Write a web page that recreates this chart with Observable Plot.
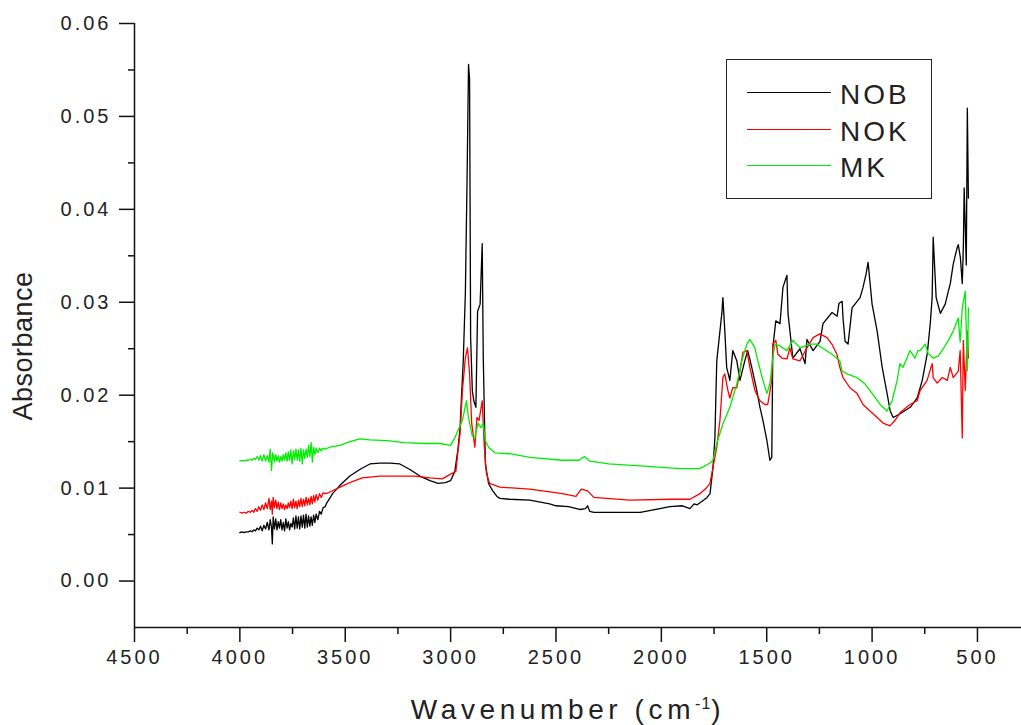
<!DOCTYPE html>
<html>
<head>
<meta charset="utf-8">
<script src="https://cdn.jsdelivr.net/npm/d3@7"></script>
<script src="https://cdn.jsdelivr.net/npm/@observablehq/plot@0.6"></script>
<style>
  html, body { margin: 0; padding: 0; background: #fff; }
  #wrap { position: relative; width: 1021px; height: 725px; font-family: "Liberation Sans", Arial, sans-serif; color: #222; }
  #chart svg text { letter-spacing: 3px; }
  #ytitle { position: absolute; left: 23px; top: 346px; transform: translate(-50%, -50%) rotate(-90deg); font-size: 27px; white-space: nowrap; letter-spacing: 0.5px; }
  #xtitle { position: absolute; left: 568px; top: 694px; transform: translateX(-50%); font-size: 28px; white-space: nowrap; letter-spacing: 4.6px; }
  #xtitle sup { font-size: 16px; letter-spacing: 1px; }
  #legend { position: absolute; left: 726px; top: 59px; width: 204px; height: 138px; border: 1.5px solid #222; }
  .lg-line { position: absolute; left: 20px; width: 84px; height: 0; border-top: 1.5px solid; }
  .lg-text { position: absolute; left: 113px; font-size: 28px; letter-spacing: 3px; line-height: 1; }
</style>
</head>
<body>
<div id="wrap">
  <div id="chart"></div>
  <div id="ytitle">Absorbance</div>
  <div id="xtitle">Wavenumber (cm<sup>-1</sup>)</div>
  <div id="legend"></div>
</div>
<script>
// ---- Data ----
const seriesNames = ["NOB", "NOK", "MK"];
const seriesColors = ["#000000", "#ff0000", "#00ee00"];

const nobWn = [4000,3990,3980,3970,3960,3950,3942,3934,3926,3918,3910,3902,3894,3886,3878,3870,3862,3856,3850,3846,3842,3836,3830,3824,3818,3812,3806,3800,3794,3788,3782,3776,3770,3764,3758,3752,3746,3740,3734,3728,3722,3716,3710,3704,3698,3692,3686,3680,3674,3668,3662,3656,3650,3644,3638,3630,3622,3614,3605,3595,3590,3560,3525,3478,3431,3383,3336,3288,3241,3193,3146,3098,3060,3025,3000,2980,2965,2955,2948,2940,2930,2922,2915,2910,2905,2897,2890,2880,2872,2860,2850,2845,2835,2820,2800,2780,2766,2720,2624,2530,2500,2440,2387,2360,2350,2340,2320,2200,2100,2050,1960,1900,1864,1845,1830,1800,1783,1769,1755,1746,1737,1713,1708,1699,1690,1675,1661,1642,1627,1604,1590,1571,1547,1532,1518,1499,1485,1476,1471,1457,1437,1423,1404,1399,1376,1342,1318,1309,1280,1247,1233,1190,1166,1157,1142,1138,1128,1114,1095,1071,1057,1043,1029,1019,1000,976,952,929,914,900,867,819,786,762,738,724,715,710,696,676,653,638,629,615,596,591,581,572,567,563,553,548,543];
const nobAbs = [0.0052,0.0053,0.0052,0.0053,0.0053,0.0054,0.0053,0.0055,0.0054,0.0057,0.0055,0.0059,0.0054,0.0060,0.0056,0.0063,0.0055,0.0066,0.0058,0.0040,0.0069,0.0056,0.0067,0.0055,0.0064,0.0057,0.0066,0.0055,0.0063,0.0054,0.0067,0.0057,0.0064,0.0055,0.0062,0.0058,0.0068,0.0056,0.0070,0.0057,0.0069,0.0056,0.0070,0.0058,0.0071,0.0057,0.0072,0.0058,0.0070,0.0059,0.0069,0.0060,0.0071,0.0063,0.0072,0.0066,0.0075,0.0072,0.0079,0.0080,0.0083,0.0094,0.0103,0.0113,0.0120,0.0126,0.0127,0.0127,0.0126,0.0120,0.0113,0.0108,0.0105,0.0106,0.0108,0.0118,0.0142,0.0165,0.0200,0.0237,0.0310,0.0430,0.0556,0.0540,0.0262,0.0205,0.0194,0.0187,0.0290,0.0298,0.0363,0.0240,0.0126,0.0105,0.0097,0.0091,0.0089,0.0088,0.0087,0.0083,0.0081,0.0080,0.0077,0.0078,0.0081,0.0075,0.0074,0.0074,0.0074,0.0076,0.0080,0.0081,0.0078,0.0083,0.0082,0.0087,0.0090,0.0094,0.0122,0.0154,0.0237,0.0288,0.0305,0.0270,0.0230,0.0216,0.0248,0.0237,0.0216,0.0237,0.0248,0.0230,0.0205,0.0187,0.0173,0.0151,0.0130,0.0133,0.0251,0.0280,0.0277,0.0316,0.0329,0.0288,0.0240,0.0250,0.0234,0.0260,0.0248,0.0258,0.0277,0.0289,0.0285,0.0299,0.0301,0.0283,0.0258,0.0255,0.0294,0.0301,0.0305,0.0316,0.0330,0.0343,0.0298,0.0269,0.0230,0.0202,0.0183,0.0176,0.0180,0.0187,0.0197,0.0216,0.0245,0.0277,0.0305,0.0370,0.0305,0.0288,0.0298,0.0312,0.0320,0.0341,0.0359,0.0362,0.0348,0.0320,0.0359,0.0423,0.0340,0.0509,0.0412,0.0380];

const nokWn = [4000,3990,3980,3970,3960,3950,3942,3934,3926,3918,3910,3902,3894,3886,3878,3870,3862,3856,3850,3846,3842,3836,3830,3824,3818,3812,3806,3800,3794,3788,3782,3776,3770,3764,3758,3752,3746,3740,3734,3728,3722,3716,3710,3704,3698,3692,3686,3680,3674,3668,3662,3656,3650,3644,3638,3630,3622,3614,3605,3595,3580,3525,3478,3420,3336,3250,3170,3098,3040,3000,2975,2965,2955,2944,2930,2920,2910,2900,2885,2875,2865,2850,2840,2830,2815,2766,2624,2470,2405,2380,2350,2320,2150,1950,1864,1817,1783,1769,1737,1722,1708,1699,1684,1675,1661,1642,1627,1613,1594,1580,1556,1532,1509,1495,1476,1471,1457,1447,1428,1404,1390,1376,1342,1309,1280,1248,1214,1191,1167,1153,1138,1105,1072,1043,1010,976,948,915,891,868,820,786,772,739,715,710,691,667,643,629,615,591,582,572,567,558,548,543];
const nokAbs = [0.0074,0.0073,0.0074,0.0073,0.0075,0.0074,0.0076,0.0074,0.0078,0.0075,0.0080,0.0076,0.0082,0.0077,0.0084,0.0078,0.0089,0.0077,0.0086,0.0072,0.0090,0.0079,0.0087,0.0078,0.0085,0.0077,0.0084,0.0078,0.0083,0.0077,0.0082,0.0078,0.0084,0.0079,0.0086,0.0078,0.0088,0.0079,0.0086,0.0078,0.0087,0.0080,0.0089,0.0080,0.0088,0.0081,0.0090,0.0082,0.0089,0.0082,0.0091,0.0083,0.0092,0.0085,0.0093,0.0087,0.0094,0.0090,0.0095,0.0094,0.0095,0.0101,0.0106,0.0111,0.0113,0.0113,0.0113,0.0111,0.0110,0.0115,0.0118,0.0140,0.0159,0.0205,0.0240,0.0251,0.0223,0.0170,0.0144,0.0176,0.0173,0.0194,0.0144,0.0116,0.0105,0.0101,0.0099,0.0094,0.0091,0.0099,0.0097,0.0090,0.0087,0.0088,0.0088,0.0094,0.0101,0.0105,0.0144,0.0173,0.0219,0.0223,0.0205,0.0197,0.0208,0.0208,0.0226,0.0246,0.0248,0.0230,0.0205,0.0194,0.0190,0.0190,0.0216,0.0255,0.0259,0.0244,0.0240,0.0239,0.0251,0.0239,0.0237,0.0251,0.0262,0.0266,0.0262,0.0255,0.0244,0.0230,0.0219,0.0208,0.0202,0.0190,0.0183,0.0176,0.0170,0.0167,0.0173,0.0181,0.0190,0.0194,0.0205,0.0216,0.0234,0.0219,0.0213,0.0219,0.0216,0.0230,0.0219,0.0226,0.0248,0.0154,0.0259,0.0205,0.0269,0.0240];

const mkWn = [4000,3990,3980,3970,3960,3950,3942,3934,3926,3918,3910,3902,3894,3886,3878,3870,3862,3856,3850,3844,3836,3830,3824,3818,3812,3806,3800,3794,3788,3782,3776,3770,3764,3758,3752,3746,3740,3734,3728,3722,3716,3710,3704,3698,3692,3686,3680,3674,3668,3662,3656,3650,3644,3638,3630,3622,3614,3605,3595,3573,3525,3478,3431,3383,3300,3220,3120,3050,3000,2980,2965,2944,2925,2915,2897,2885,2870,2856,2845,2835,2820,2790,2719,2624,2470,2390,2365,2340,2250,2100,1910,1817,1769,1755,1737,1708,1675,1642,1618,1594,1580,1556,1542,1518,1499,1485,1471,1461,1437,1404,1376,1342,1295,1265,1238,1190,1153,1143,1119,1072,1033,1000,962,929,905,881,868,853,820,796,782,772,748,734,710,686,662,638,615,591,582,572,558,548,543];
const mkAbs = [0.0129,0.0130,0.0129,0.0130,0.0130,0.0131,0.0130,0.0132,0.0131,0.0134,0.0130,0.0135,0.0129,0.0136,0.0129,0.0135,0.0128,0.0142,0.0119,0.0138,0.0128,0.0136,0.0129,0.0135,0.0128,0.0134,0.0129,0.0136,0.0130,0.0138,0.0129,0.0139,0.0130,0.0141,0.0126,0.0140,0.0131,0.0142,0.0130,0.0141,0.0129,0.0143,0.0126,0.0141,0.0132,0.0142,0.0133,0.0146,0.0134,0.0149,0.0128,0.0144,0.0136,0.0143,0.0138,0.0143,0.0140,0.0143,0.0142,0.0144,0.0146,0.0150,0.0153,0.0152,0.0151,0.0149,0.0148,0.0148,0.0146,0.0154,0.0162,0.0173,0.0194,0.0176,0.0156,0.0154,0.0170,0.0165,0.0170,0.0151,0.0144,0.0138,0.0137,0.0133,0.0130,0.0130,0.0134,0.0129,0.0126,0.0124,0.0121,0.0121,0.0127,0.0130,0.0148,0.0169,0.0187,0.0212,0.0237,0.0255,0.0260,0.0251,0.0237,0.0216,0.0202,0.0212,0.0240,0.0255,0.0253,0.0248,0.0259,0.0251,0.0255,0.0255,0.0251,0.0244,0.0237,0.0226,0.0223,0.0219,0.0212,0.0202,0.0190,0.0183,0.0194,0.0216,0.0234,0.0230,0.0248,0.0240,0.0248,0.0248,0.0255,0.0245,0.0240,0.0242,0.0250,0.0259,0.0269,0.0283,0.0257,0.0294,0.0312,0.0226,0.0294];

const xMajorTicks = [4500,4000,3500,3000,2500,2000,1500,1000,500];
const xMinorTicks = [4250,3750,3250,2750,2250,1750,1250,750];
const yMajorTicks = [0.00,0.01,0.02,0.03,0.04,0.05,0.06];
const yMinorTicks = [0.005,0.015,0.025,0.035,0.045,0.055];

// ---- Build table ----
const toRows = (name, wn, ab) => wn.map((w, i) => ({series: name, wn: w, a: ab[i]}));
const allSeries = [
  toRows("NOB", nobWn, nobAbs),
  toRows("NOK", nokWn, nokAbs),
  toRows("MK", mkWn, mkAbs)
];

const xDomain = [4500, 291];
const yDomain = [-0.005, 0.06];

const chart = Plot.plot({
  width: 1021,
  height: 725,
  marginLeft: 134,
  marginRight: 0,
  marginTop: 23,
  marginBottom: 98,
  style: {fontFamily: "'Liberation Sans', Arial, sans-serif", fontSize: "20px", color: "#222", background: "#fff", overflow: "visible"},
  x: {domain: xDomain},
  y: {domain: yDomain},
  marks: [
    Plot.axisX({ticks: xMajorTicks, tickSize: 15, tickPadding: 7, tickFormat: d => String(d), label: null, stroke: "#111", strokeWidth: 1.5}),
    Plot.axisX({ticks: xMinorTicks, tickSize: 7, tickFormat: () => "", label: null, stroke: "#111", strokeWidth: 1.5}),
    Plot.axisY({ticks: yMajorTicks, tickSize: 15, tickPadding: 8, tickFormat: d3.format(".2f"), label: null, stroke: "#111", strokeWidth: 1.5}),
    Plot.axisY({ticks: yMinorTicks, tickSize: 6, tickFormat: () => "", label: null, stroke: "#111", strokeWidth: 1.5}),
    Plot.ruleX([xDomain[0]], {stroke: "#111", strokeWidth: 1.5}),
    Plot.ruleY([yDomain[0]], {stroke: "#111", strokeWidth: 1.5}),
    ...allSeries.map((rows, i) => Plot.line(rows, {x: "wn", y: "a", stroke: seriesColors[i], strokeWidth: 1.3}))
  ]
});
document.getElementById("chart").appendChild(chart);

// ---- Legend ----
const legend = document.getElementById("legend");
seriesNames.forEach((name, i) => {
  const ln = document.createElement("div");
  ln.className = "lg-line";
  ln.style.top = (32 + i * 36.5) + "px";
  ln.style.borderTopColor = seriesColors[i];
  legend.appendChild(ln);
  const tx = document.createElement("div");
  tx.className = "lg-text";
  tx.style.top = (21 + i * 36.5) + "px";
  tx.textContent = name;
  legend.appendChild(tx);
});
</script>
</body>
</html>
